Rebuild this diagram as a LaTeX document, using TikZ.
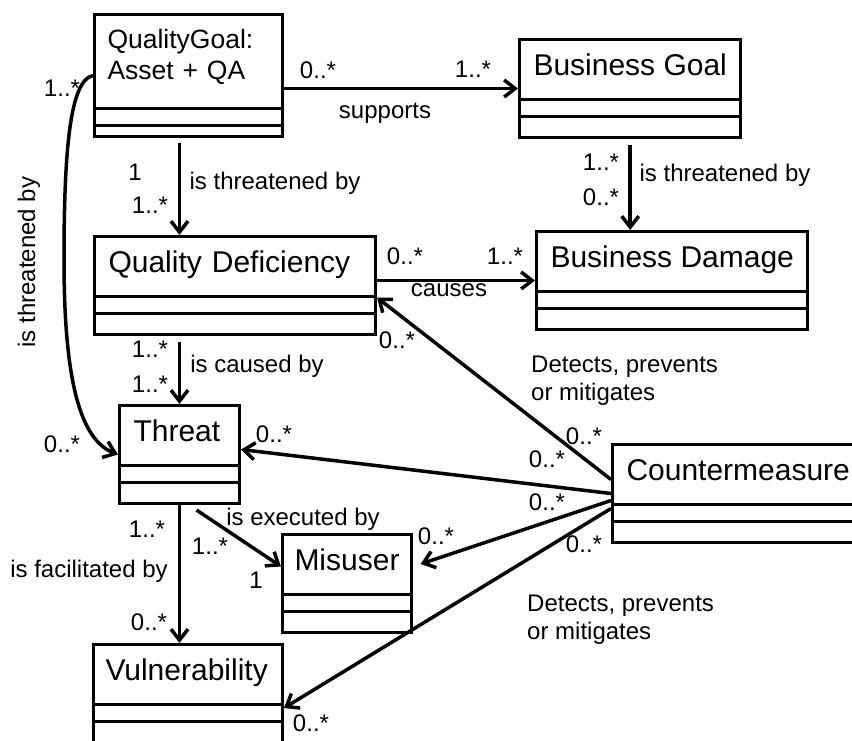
\documentclass[tikz,border=0pt]{standalone}
\usepackage{fontspec}
\setmainfont{Liberation Sans}
\usetikzlibrary{arrows.meta}
\newcommand{\clsfont}{\fontsize{30}{31}\selectfont}
\newcommand{\lblfont}{\fontsize{24}{28}\selectfont}
\tikzset{
  divs/.style 2 args={path picture={
    \draw[line width=3pt] ([yshift=#1pt]path picture bounding box.south west) -- ([yshift=#1pt]path picture bounding box.south east);
    \draw[line width=3pt] ([yshift=#2pt]path picture bounding box.south west) -- ([yshift=#2pt]path picture bounding box.south east);}},
  cls/.style={rectangle,draw,line width=3pt,anchor=north west,align=left,
    inner xsep=14pt,inner ysep=0pt,text height=36pt,text depth=62pt,
    font=\clsfont,divs={21}{38}},
  assoc/.style={line width=3.5pt,-{Straight Barb[length=11pt,width=17pt]}},
  mult/.style={font=\lblfont,inner sep=0pt},
  role/.style={font=\lblfont,inner sep=0pt,align=left},
}

\begin{document}
\begin{tikzpicture}[x=1pt,y=-1pt]
  \clip (0,0) rectangle (852,740);
  % classes
  \node[cls,font=\fontsize{26.5}{31}\selectfont,text width=162pt,inner xsep=13pt,
    text height=34pt,text depth=88pt,divs={11}{28}] (qg) at (93,13) {QualityGoal:\\Asset + QA};
  \node[cls] (bg) at (518,38) {Business Goal};
  \node[cls,text width=253pt] (qd) at (93,235) {Quality Deficiency};
  \node[cls] (bd) at (535,230) {Business Damage};
  \node[cls,text width=92pt] (threat) at (118,404) {Threat};
  \node[cls,text width=105pt,inner xsep=12pt] (misuser) at (281,533) {Misuser};
  \node[cls,text width=165pt,inner xsep=12pt] (vuln) at (92,643) {Vulnerability};
  \node[cls,text width=230pt] (cm) at (611,443) {Countermeasure};

  % associations
  \draw[assoc] (qg.east |- bg.west) -- (bg.west);
  \draw[assoc,shorten <=5pt] (qg.south -| threat.north) -- (qd.north -| threat.north);
  \draw[assoc,shorten <=6pt] (bg.south) -- (bg.south |- bd.north);
  \draw[assoc] (qd.east |- bd.west) -- (bd.west);
  \draw[assoc,shorten <=6pt] (qd.south -| threat.north) -- (threat.north);
  \draw[assoc] (threat.south) -- (threat.south |- vuln.north);
  \draw[assoc] ([xshift=17pt,yshift=-5pt]threat.south) -- ([yshift=17pt]misuser.west);
  \draw[assoc] (qg.west) .. controls (70,80) and (64,150) .. (64,260) .. controls (64,380) and (80,440) .. (threat.west);
  \draw[assoc] ([yshift=14pt]cm.west) -- ([yshift=-12pt]qd.east);
  \draw[assoc] (cm.west) -- ([yshift=5pt]threat.east);
  \draw[assoc,shorten >=8pt] ([yshift=-7pt]cm.west) -- ([yshift=17pt]misuser.east);
  \draw[assoc] ([yshift=-15pt]cm.west) -- ([yshift=-65pt]vuln.north east);

  % multiplicities and roles
  \node[mult] (m1) at (318,70) {0..*};
  \node[mult] (m2) at (473,69) {1..*};
  \node[role] (r1) at (385,113) {supports};
  \node[mult] (m3) at (135,172) {1};
  \node[mult] (m4) at (150,205) {1..*};
  \node[role] (r2) at (275,183) {is threatened by};
  \node[mult] (m5) at (62,88) {1..*};
  \node[mult] (m6) at (62,444) {0..*};
  \node[role,rotate=90] (r3) at (29,262) {is threatened by};
  \node[mult] (m7) at (601,162) {1..*};
  \node[mult] (m8) at (601,197) {0..*};
  \node[role] (r4) at (725,175) {is threatened by};
  \node[mult] (m9) at (405,256) {0..*};
  \node[mult] (m10) at (505,256) {1..*};
  \node[role] (r5) at (449,290) {causes};
  \node[mult] (m11) at (150,349) {1..*};
  \node[mult] (m12) at (150,384) {1..*};
  \node[role] (r6) at (257,366) {is caused by};
  \node[mult] (m13) at (397,340) {0..*};
  \node[mult] (m14) at (274,434) {0..*};
  \node[mult] (m15) at (584,436) {0..*};
  \node[mult] (m16) at (547,459) {0..*};
  \node[mult] (m17) at (547,502) {0..*};
  \node[mult] (m18) at (584,544) {0..*};
  \node[mult] (m19) at (436,536) {0..*};
  \node[mult] (m20) at (147,529) {1..*};
  \node[role] (r7) at (89,571) {is facilitated by};
  \node[mult] (m21) at (149,622) {0..*};
  \node[role] (r8) at (303,519) {is executed by};
  \node[mult] (m22) at (210,546) {1..*};
  \node[mult] (m23) at (256,580) {1};
  \node[mult] (m24) at (311,723) {0..*};
  \node[role,anchor=north west] (r9) at (531,356) {Detects, prevents\\or mitigates};
  \node[role,anchor=north west] (r10) at (527,595) {Detects, prevents\\or mitigates};
\end{tikzpicture}
\end{document}
